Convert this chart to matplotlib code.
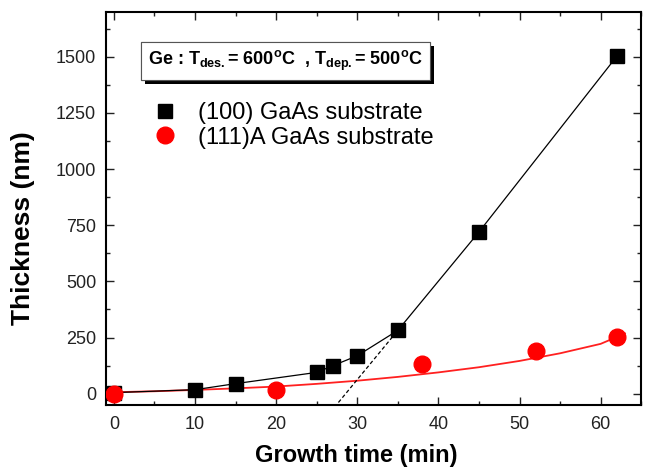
import numpy as np
import matplotlib
matplotlib.use("Agg")
import matplotlib.pyplot as plt
import matplotlib.patheffects as pe

plt.rcParams["font.family"] = "Liberation Sans"
plt.rcParams["mathtext.fontset"] = "custom"
plt.rcParams["mathtext.rm"] = "Liberation Sans"
plt.rcParams["mathtext.bf"] = "Liberation Sans:bold"

# (100) GaAs
sq_t = [0, 10, 15, 25, 27, 30, 35, 45, 62]
sq_v = [5, 18, 45, 95, 125, 169, 282, 720, 1502]

# (111)A GaAs
ci_t = [0, 20, 38, 52, 62]
ci_v = [0, 18, 132, 188, 252]

# fitted curve for (111)A
fit_t = [-1, 5, 10, 15, 20, 25, 30, 35, 40, 45, 50, 55, 60, 63]
fit_v = [6, 11, 17, 24, 32, 44, 58, 75, 95, 118, 146, 180, 222, 268]

fig = plt.figure(figsize=(6.49, 4.69), dpi=100)
ax = fig.add_axes([0.163, 0.1365, 0.825, 0.8385])

ax.plot(fit_t, fit_v, color="#ff2020", lw=1.3, zorder=2)
ax.plot(sq_t, sq_v, color="k", lw=0.9, zorder=2)

# linear extension of the fast-growth regime
slope = (sq_v[7] - sq_v[6]) / (sq_t[7] - sq_t[6])
ext_t = np.array([20, sq_t[6]])
ext_v = sq_v[6] + slope * (ext_t - sq_t[6])
ax.plot(ext_t, ext_v, color="k", lw=0.9, ls=(0, (3, 2)), zorder=2)

ax.plot(sq_t, sq_v, ls="none", marker="s", ms=10.5, color="k",
        label="(100) GaAs substrate", zorder=3)
ax.plot(ci_t, ci_v, ls="none", marker="o", ms=12, color="#ff0000",
        label="(111)A GaAs substrate", zorder=4)

ax.set_xlim(-1, 63)
ax.set_ylim(-50, 1700)
ax.set_xticks(range(0, 61, 10))
ax.set_xticks(range(5, 66, 10), minor=True)
ax.set_yticks(range(0, 1501, 250))
ax.set_yticks(range(125, 1700, 250), minor=True)
ax.tick_params(which="both", direction="in", top=True, right=True,
               labelsize=13, width=1, colors="#222222")
ax.tick_params(axis="x", pad=8)
ax.tick_params(axis="y", pad=7)
ax.tick_params(which="major", length=6)
ax.tick_params(which="minor", length=3)
for s in ax.spines.values():
    s.set_linewidth(1.5)

ax.set_xlabel("Growth time (min)", fontsize=17, fontweight="bold")
ax.set_ylabel("Thickness (nm)", fontsize=19, fontweight="bold")
ax.xaxis.set_label_coords(0.468, -0.098)
ax.yaxis.set_label_coords(-0.133, 0.45)

txt = ax.text(0.335, 0.875,
              r"Ge : T$_{\mathbf{des.}}$= 600$^{\mathbf{o}}$C  , T$_{\mathbf{dep.}}$= 500$^{\mathbf{o}}$C",
              transform=ax.transAxes, ha="center", va="center",
              fontsize=13, fontweight="bold",
              bbox=dict(boxstyle="square,pad=0.4", fc="white", ec="#555555", lw=0.8))
txt.get_bbox_patch().set_path_effects(
    [pe.withSimplePatchShadow(offset=(3, -3), shadow_rgbFace="k", alpha=1), pe.Normal()])

ax.legend(loc="upper left", bbox_to_anchor=(0.071, 0.795), frameon=False,
          fontsize=17, handlelength=1.0, handletextpad=0.9, labelspacing=0.12,
          borderaxespad=0)

fig.savefig("out.png", dpi=100)
